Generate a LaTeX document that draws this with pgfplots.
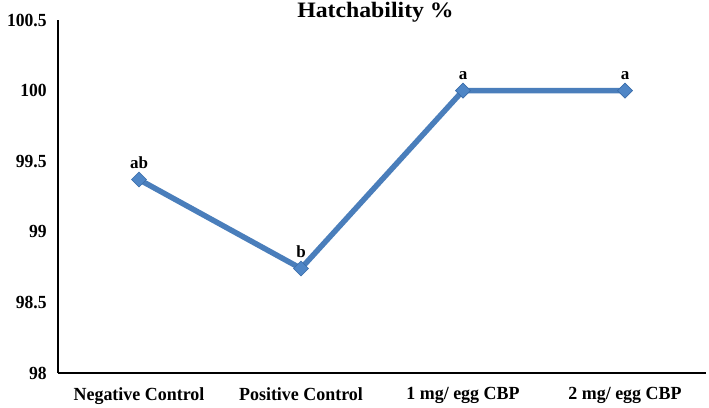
\documentclass[border=0pt]{standalone}
\usepackage{pgfplots}
\pgfplotsset{compat=1.18}
\usepackage{fontspec}
\setmainfont{Liberation Serif}
\definecolor{lineblue}{HTML}{4A7EBB}
\definecolor{markblue}{HTML}{4F86C6}
\definecolor{markedge}{HTML}{3A6DAA}
\begin{document}
\begin{tikzpicture}
\begin{axis}[
  scale only axis,
  width=648pt, height=353pt,
  xmin=-0.5, xmax=3.5,
  ymin=98, ymax=100.5,
  ytick={98,98.5,99,99.5,100,100.5},
  xtick={0,1,2,3},
  xticklabels={Negative Control, Positive Control, 1 mg/ egg CBP, 2 mg/ egg CBP},
  axis x line=bottom, axis y line=left,
  axis line style={-, line width=1.6pt, black},
  major tick length=0pt,
  /pgf/number format/assume math mode=true,
  yticklabel style={font=\fontsize{18.5}{20}\selectfont\bfseries, xshift=-8pt, xscale=0.95},
  xticklabel style={font=\fontsize{18.5}{20}\selectfont\bfseries, yshift=-11pt, xscale=0.97},
  y tick label style={/pgf/number format/.cd, fixed, precision=1},
  clip=false,
  nodes near coords,
  point meta=explicit symbolic,
  every node near coord/.append style={font=\fontsize{17}{19}\selectfont\bfseries, black, yshift=7pt},
]
\addplot[color=lineblue, line width=5.5pt, mark=square*, mark size=5.3pt,
  mark options={rotate=45, fill=markblue, draw=markedge, line width=0.6pt}]
  table[meta=lab] {
  x y lab
  0 99.37 ab
  1 98.74 b
  2 100 a
  3 100 a
};
% chart title, set on a baseline just above the top of the axis
\node[anchor=base, inner sep=0pt, xscale=1.08, font=\fontsize{22}{24}\selectfont\bfseries]
  at ([yshift=3pt]rel axis cs:0.49,1) {Hatchability \%};
\end{axis}
\pgfresetboundingbox
\path[use as bounding box] ([shift={(-58pt,-34pt)}]current axis.south west) rectangle ([shift={(3pt,20pt)}]current axis.north east);
\end{tikzpicture}
\end{document}
